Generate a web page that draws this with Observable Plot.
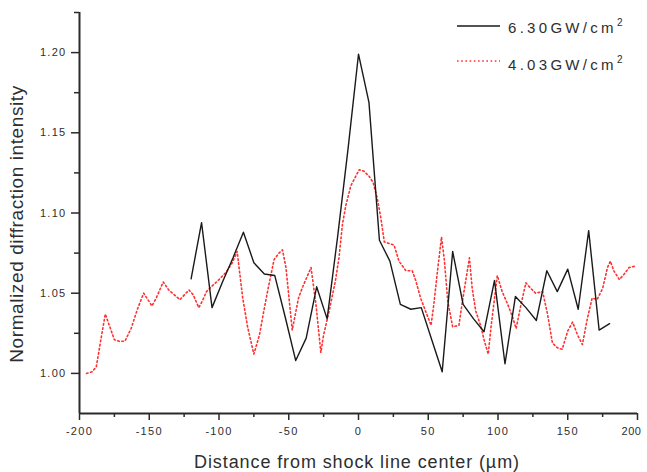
<!DOCTYPE html>
<html>
<head>
<meta charset="utf-8">
<script src="https://cdn.jsdelivr.net/npm/d3@7"></script>
<script src="https://cdn.jsdelivr.net/npm/@observablehq/plot@0.6"></script>
<style>
  html, body { margin: 0; padding: 0; background: #fff; }
  #chart { width: 647px; height: 472px; }
</style>
</head>
<body>
<div id="chart"></div>
<script>
// ---- data ----
const blackX = [-120,-112.5,-105,-97.5,-90,-82.5,-75,-67.5,-60,-52.5,-45,-37.5,-30,-22.5,-15,-7.5,0,7.5,15,22.5,30,37.5,45,52.5,60,67.5,75,82.5,90,97.5,105,112.5,120,127.5,135,142.5,150,157.5,165,172.5,180];
const blackY = [1.059,1.094,1.041,1.057,1.072,1.088,1.069,1.062,1.061,1.035,1.008,1.022,1.054,1.034,1.085,1.140,1.199,1.169,1.083,1.070,1.043,1.040,1.041,1.021,1.001,1.076,1.043,1.034,1.026,1.058,1.006,1.048,1.041,1.033,1.064,1.051,1.065,1.040,1.089,1.027,1.031];

const redX = [-195,-191,-188,-184.5,-181.5,-175,-171.5,-167.5,-163,-158.5,-154,-151,-148,-145,-140,-136,-132,-128,-121.5,-118.5,-114.5,-112,-109,-105.5,-100,-95,-90.5,-87,-83,-79.5,-75,-71,-68.5,-65,-60.5,-57,-54.5,-52,-47.5,-43,-40,-37,-34,-30.5,-27,-25,-21,-16.5,-14,-11.5,-9,-5.5,0.5,4,7.5,10.5,13.5,16,18.5,22,25.5,29,34,38.5,41,44.5,48,52,54,56.5,59.5,61.5,64,67.5,72,74.5,79.5,81.5,84,87.5,90,93,95,99.5,103,107,110.5,113,116.5,120,123.5,127,132,135.5,139,142.5,146,150,153.5,157,160.5,164,167.5,171,175,178.5,180.5,183,187,190.5,194,199];
const redY = [1.000,1.001,1.004,1.022,1.037,1.021,1.020,1.020,1.028,1.040,1.050,1.046,1.042,1.047,1.057,1.052,1.049,1.046,1.052,1.049,1.041,1.045,1.051,1.054,1.0585,1.063,1.069,1.076,1.047,1.029,1.012,1.024,1.036,1.052,1.071,1.075,1.077,1.066,1.027,1.047,1.054,1.060,1.066,1.043,1.013,1.024,1.039,1.058,1.072,1.093,1.105,1.117,1.127,1.126,1.123,1.119,1.109,1.097,1.082,1.081,1.080,1.070,1.064,1.064,1.058,1.047,1.039,1.030,1.043,1.063,1.085,1.071,1.045,1.029,1.030,1.045,1.072,1.053,1.039,1.030,1.021,1.012,1.029,1.061,1.051,1.043,1.035,1.028,1.043,1.0565,1.053,1.050,1.051,1.037,1.019,1.016,1.015,1.0265,1.032,1.024,1.018,1.034,1.047,1.046,1.053,1.066,1.070,1.064,1.0585,1.062,1.066,1.067];

const xTicks = [-200,-150,-100,-50,0,50,100,150,200];
const xMinorTicks = [-175,-125,-75,-25,25,75,125,175];
const yTicks = [1.00,1.05,1.10,1.15,1.20];
const yMinorTicks = [1.025,1.075,1.125,1.175,1.225];
const xDomain = [-200, 200];
const yDomain = [0.975, 1.225];

const seriesNames = ["6.30GW/cm", "4.03GW/cm"];
const xTitle = "Distance from shock line center (\u00b5m)";
const yTitle = "Normalized diffraction intensity";

const black = blackX.map((x, i) => ({x, y: blackY[i]}));
const red = redX.map((x, i) => ({x, y: redY[i]}));

const axisColor = "#2a2a2a";
const textColor = "#2e2e2e";
const redColor = "#ff3030";
const redDash = "1.6,2.6";

const chart = Plot.plot({
  width: 647,
  height: 472,
  marginLeft: 79,
  marginRight: 10,
  marginTop: 12,
  marginBottom: 59,
  x: {domain: xDomain},
  y: {domain: yDomain},
  style: {fontFamily: "'Liberation Sans', Arial, sans-serif", fontSize: "11px", color: textColor, background: "#fff"},
  marks: [
    Plot.axisX(xTicks, {tickSize: 7, tickPadding: 7, tickFormat: d => String(d), label: null, stroke: axisColor, strokeWidth: 1.5}),
    Plot.axisX(xMinorTicks, {tickSize: 4, text: null, label: null, stroke: axisColor, strokeWidth: 1.5}),
    Plot.axisY(yTicks, {tickSize: 8, tickPadding: 5, tickFormat: d => d.toFixed(2), label: null, stroke: axisColor, strokeWidth: 1.5}),
    Plot.axisY(yMinorTicks, {tickSize: 5, text: null, label: null, stroke: axisColor, strokeWidth: 1.5}),
    Plot.ruleX([xDomain[0]], {stroke: axisColor, strokeWidth: 2}),
    Plot.ruleY([yDomain[0]], {stroke: axisColor, strokeWidth: 2}),
    Plot.line(red, {x: "x", y: "y", stroke: redColor, strokeWidth: 1.6, strokeDasharray: redDash}),
    Plot.line(black, {x: "x", y: "y", stroke: "#1a1a1a", strokeWidth: 1.4})
  ]
});

document.getElementById("chart").appendChild(chart);

const svg = d3.select(chart);
svg.selectAll("g[aria-label='x-axis tick label'] text, g[aria-label='y-axis tick label'] text")
  .style("letter-spacing", "1.3px");
// keep the right-most x tick label inside the picture
svg.selectAll("g[aria-label='x-axis tick label'] text")
  .filter(function() { return this.textContent === String(xTicks[xTicks.length - 1]); })
  .style("letter-spacing", "0.6px")
  .attr("dx", -6);

// axis titles
svg.append("text")
  .attr("x", 357).attr("y", 468)
  .attr("text-anchor", "middle")
  .style("font-family", "'Liberation Sans', Arial, sans-serif")
  .style("font-size", "18px")
  .style("letter-spacing", "0.9px")
  .attr("fill", textColor)
  .text(xTitle);

svg.append("text")
  .attr("transform", "translate(23,224) rotate(-90)")
  .attr("text-anchor", "middle")
  .style("font-family", "'Liberation Sans', Arial, sans-serif")
  .style("font-size", "19px")
  .style("letter-spacing", "0.6px")
  .attr("fill", textColor)
  .text(yTitle);

// legend
const legend = [
  {name: seriesNames[0], stroke: "#1a1a1a", dash: null, width: 1.4, ly: 26, ty: 33},
  {name: seriesNames[1], stroke: redColor, dash: redDash, width: 1.6, ly: 61, ty: 70}
];
legend.forEach(l => {
  svg.append("line")
    .attr("x1", 457).attr("x2", 500).attr("y1", l.ly).attr("y2", l.ly)
    .attr("stroke", l.stroke).attr("stroke-width", l.width)
    .attr("stroke-dasharray", l.dash);
  const t = svg.append("text")
    .attr("x", 508).attr("y", l.ty)
    .attr("text-anchor", "start")
    .style("text-anchor", "start")
    .style("font-family", "'Liberation Sans', Arial, sans-serif")
    .style("font-size", "15px")
    .style("letter-spacing", "3.3px")
    .attr("fill", textColor)
    .text(l.name);
  t.append("tspan").attr("dy", -7).style("font-size", "10px").style("letter-spacing", "0px").text("2");
});
</script>
</body>
</html>
